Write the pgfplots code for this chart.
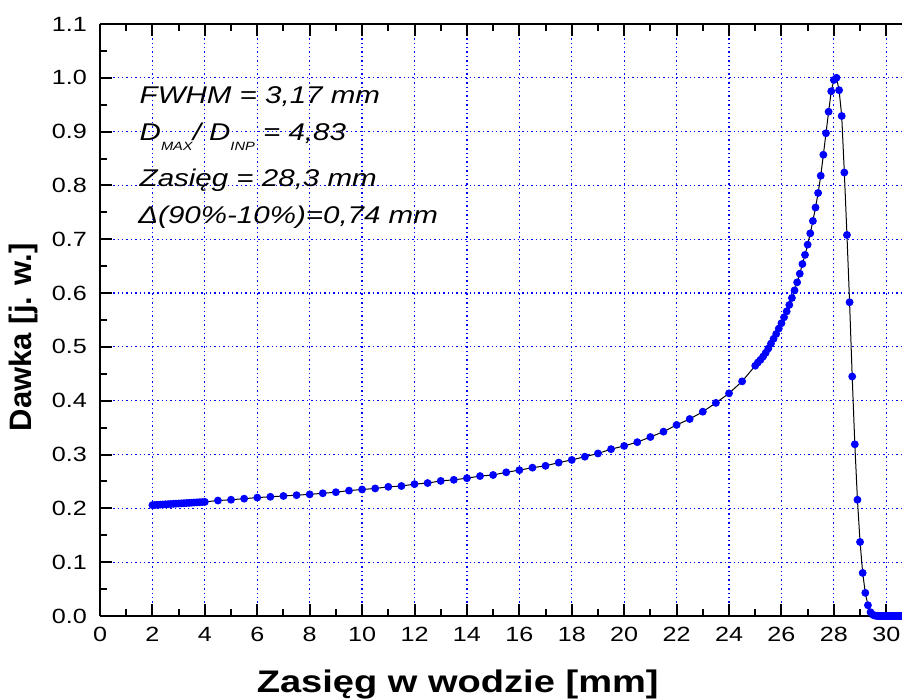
\documentclass[border=0pt]{standalone}
\usepackage{fontspec}
\setmainfont{Liberation Sans}[FakeStretch=1.22]
\newfontfamily\plainsans{Liberation Sans}
\usepackage{pgfplots}
\pgfplotsset{compat=1.18}

\pgfplotstableread{
x y
2.0 0.2060
2.1 0.2063
2.2 0.2066
2.3 0.2069
2.4 0.2072
2.5 0.2075
2.6 0.2078
2.7 0.2081
2.8 0.2084
2.9 0.2087
3.0 0.2090
3.1 0.2093
3.2 0.2096
3.3 0.2099
3.4 0.2102
3.5 0.2105
3.6 0.2108
3.7 0.2111
3.8 0.2114
3.9 0.2117
4.0 0.2120
4.5 0.2145
5.0 0.2160
5.5 0.2180
6.0 0.2200
6.5 0.2215
7.0 0.2230
7.5 0.2245
8.0 0.2260
8.5 0.2280
9.0 0.2300
9.5 0.2330
10.0 0.2350
10.5 0.2370
11.0 0.2400
11.5 0.2415
12.0 0.2450
12.5 0.2470
13.0 0.2510
13.5 0.2530
14.0 0.2560
14.5 0.2600
15.0 0.2620
15.5 0.2670
16.0 0.2710
16.5 0.2756
17.0 0.2790
17.5 0.2850
18.0 0.2900
18.5 0.2960
19.0 0.3020
19.5 0.3100
20.0 0.3160
20.5 0.3230
21.0 0.3326
21.5 0.3425
22.0 0.3550
22.5 0.3660
23.0 0.3796
23.5 0.3960
24.0 0.4137
24.5 0.4360
25.0 0.4650
25.1 0.4710
25.2 0.4760
25.3 0.4820
25.4 0.4890
25.5 0.4970
25.6 0.5060
25.7 0.5150
25.8 0.5240
25.9 0.5340
26.0 0.5440
26.1 0.5550
26.2 0.5660
26.3 0.5780
26.4 0.5910
26.5 0.6050
26.6 0.6200
26.7 0.6360
26.8 0.6540
26.9 0.6710
27.0 0.6900
27.1 0.7110
27.2 0.7340
27.3 0.7590
27.4 0.7860
27.5 0.8180
27.6 0.8570
27.7 0.8970
27.8 0.9370
27.9 0.9750
28.0 0.9960
28.1 1.0000
28.2 0.9770
28.3 0.9290
28.4 0.8240
28.5 0.7080
28.6 0.5830
28.7 0.4450
28.8 0.3190
28.9 0.2160
29.0 0.1375
29.1 0.0800
29.2 0.0430
29.3 0.0200
29.4 0.0070
29.5 0.0020
29.55 0.0010
29.6 0.0005
29.65 0.0002
29.7 0.0
29.75 0.0
29.8 0.0
29.85 0.0
29.9 0.0
29.95 0.0
30.0 0.0
30.05 0.0
30.1 0.0
30.15 0.0
30.2 0.0
30.25 0.0
30.3 0.0
30.35 0.0
30.4 0.0
30.45 0.0
30.5 0.0
30.55 0.0
30.6 0.0
}\dose

\begin{document}
\begin{tikzpicture}
\begin{axis}[
  scale only axis, width=401pt, height=296pt,
  xmin=0, xmax=30.6, ymin=0, ymax=1.1,
  axis x line=box, axis y line=left,
  axis line style={black, line width=1pt, -},
  y axis line style={-},
  xtick={0,2,...,30}, minor x tick num=1,
  ytick={0,0.1,0.2,0.3,0.4,0.5,0.6,0.7,0.8,0.9,1.0,1.1}, minor y tick num=1,
  tick align=inside, major tick length=6pt, minor tick length=3.5pt,
  tick style={black, line width=1pt},
  grid=major,
  major grid style={blue, dash pattern=on 0.7pt off 1.5pt, line width=0.6pt},
  /pgf/number format/assume math mode=true,
  tick label style={font=\fontsize{10.3}{12}\selectfont},
  yticklabel style={xshift=-3pt, /pgf/number format/.cd, fixed, fixed zerofill, precision=1},
  xticklabel style={yshift=-2pt},
  xlabel={\bfseries Zasięg w wodzie [mm]},
  ylabel={\plainsans\bfseries Dawka [j. w.]},
  xlabel style={font=\fontsize{15.6}{17}\selectfont, at={(ticklabel cs:0.446)}, yshift=-7.5pt},
  ylabel style={font=\fontsize{15.5}{17}\selectfont, at={(ticklabel cs:0.471)}},
  clip=false,
]
\addplot[black, line width=0.5pt, mark=*, mark size=1.7pt,
  mark options={draw=blue, fill=blue}] table[x=x, y=y] {\dose};
\begin{scope}[every node/.style={anchor=base west, inner sep=0pt, font=\fontsize{12.1}{14}\selectfont\itshape}]
\node at (axis cs:1.5,0.953) {FWHM = 3,17 mm};
\node at (axis cs:1.5,0.884)
  {D\raisebox{-5pt}{\fontsize{6}{6}\selectfont MAX}/ D\raisebox{-5pt}{\fontsize{6}{6}\selectfont INP} = 4,83};
\node at (axis cs:1.5,0.798) {Zasięg = 28,3 mm};
\node at (axis cs:1.45,0.730) {Δ(90\%-10\%)=0,74 mm};
\end{scope}
\end{axis}
\pgfresetboundingbox
\useasboundingbox (-50pt,-42pt) rectangle (401pt,308pt);
\end{tikzpicture}
\end{document}
